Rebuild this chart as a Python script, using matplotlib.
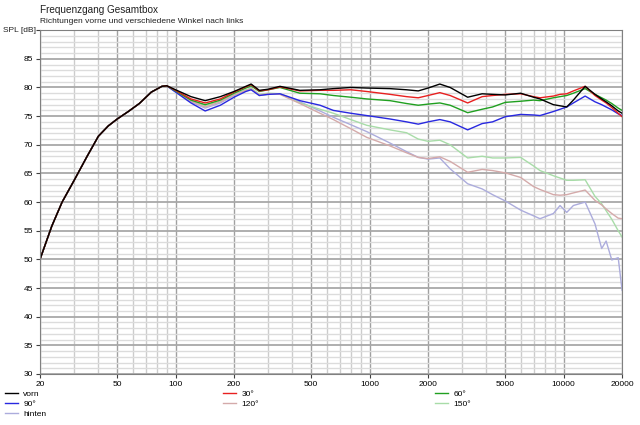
import numpy as np
import matplotlib
matplotlib.use("Agg")
import matplotlib.pyplot as plt
from matplotlib.lines import Line2D

plt.rcParams['font.family'] = ['Liberation Sans', 'DejaVu Sans']

# Frequenzpunkte (Hz)
freq = [20, 23, 26, 30, 35, 40, 45, 50, 57, 65, 75, 85, 90,
        100, 120, 142, 170, 200, 230, 245, 270, 300, 345, 437, 555, 650, 800, 966,
        1274, 1550, 1780, 2000, 2300, 2600, 3200, 3800, 4300, 5000, 6000, 7000,
        7550, 8850, 9580, 10370, 11220, 12900, 14500, 15700, 16550, 17700, 19100, 20000]

# gemeinsamer Tieftonbereich 20..90 Hz
bass = [50.0, 55.8, 60.0, 63.8, 68.0, 71.5, 73.3, 74.5, 75.8, 77.2, 79.2, 80.2, 80.3]

vorn = bass + [79.6, 78.4, 77.7, 78.4, 79.3, 80.2, 80.6, 79.5, 79.7, 80.2, 79.5, 79.6, 79.8, 80.0, 79.9,
               79.8, 79.6, 79.4, 79.9, 80.6, 80.0, 78.3, 78.9, 78.8, 78.7, 79.0, 78.3,
               78.0, 77.0, 76.8, 76.6, 77.8, 80.2, 78.8, 78.0, 77.5, 76.8, 75.9, 75.5]
w30 = bass + [79.5, 78.0, 77.3, 78.0, 79.2, 80.1, 80.5, 79.4, 79.6, 80.1, 79.4, 79.5, 79.5, 79.6, 79.3,
              78.8, 78.4, 78.2, 78.6, 79.1, 78.6, 77.3, 78.4, 78.6, 78.8, 78.9, 78.4,
              78.2, 78.5, 78.8, 78.9, 79.4, 80.2, 78.6, 77.8, 77.3, 76.5, 75.5, 74.9]
w60 = bass + [79.4, 77.8, 77.0, 77.8, 79.0, 79.9, 80.3, 79.3, 79.6, 80.0, 79.0, 78.9, 78.6, 78.3, 78.0,
              77.7, 77.2, 76.9, 77.1, 77.3, 76.9, 75.6, 76.2, 76.6, 77.4, 77.6, 77.8,
              77.7, 78.2, 78.4, 78.6, 79.0, 79.8, 78.8, 78.2, 77.8, 77.2, 76.4, 76.0]
w90 = bass + [79.2, 77.3, 75.9, 76.9, 78.3, 79.3, 79.6, 78.6, 78.8, 78.9, 77.7, 76.9, 76.0, 75.5, 75.1,
              74.5, 74.0, 73.6, 74.0, 74.4, 74.0, 72.6, 73.7, 74.0, 74.9, 75.3, 75.2,
              75.1, 75.8, 76.2, 76.6, 77.3, 78.5, 77.5, 77.0, 76.6, 76.1, 75.4, 75.1]
w120 = bass + [79.3, 77.6, 76.6, 77.5, 78.7, 79.5, 79.8, 78.7, 78.9, 78.8, 77.2, 75.5, 74.4, 72.8, 71.3,
               69.8, 68.6, 67.8, 67.6, 67.9, 67.1, 65.2, 65.7, 65.5, 65.1, 64.3, 62.7,
               62.2, 61.3, 61.2, 61.3, 61.6, 62.1, 60.3, 59.5, 58.8, 58.0, 57.2, 57.1]
w150 = bass + [79.3, 77.7, 76.8, 77.6, 78.8, 79.6, 79.9, 78.8, 79.0, 78.9, 77.3, 76.2, 75.5, 74.4, 73.4,
               72.6, 72.1, 71.0, 70.6, 70.8, 70.0, 67.7, 68.0, 67.7, 67.7, 67.8, 66.3,
               65.5, 64.6, 64.2, 63.8, 63.8, 63.9, 61.0, 59.7, 58.5, 57.0, 55.0, 53.9]
hinten = bass + [79.2, 77.5, 76.4, 77.3, 78.6, 79.4, 79.7, 78.6, 78.8, 78.9, 77.5, 75.9, 74.8, 73.5, 72.3,
                 70.3, 68.8, 67.8, 67.5, 67.7, 65.8, 63.2, 62.3, 61.3, 60.2, 58.6, 57.6,
                 57.1, 58.0, 59.4, 58.2, 59.4, 60.0, 56.2, 51.9, 53.2, 49.9, 50.3, 44.6]

labels = ['vorn', '30°', '60°', '90°', '120°', '150°', 'hinten']
colors = ['#000000', '#e82020', '#20a020', '#2828e0', '#d4aaaa', '#a8dca8', '#acacdc']
series = [vorn, w30, w60, w90, w120, w150, hinten]

fig = plt.figure(figsize=(6.4, 4.25), dpi=100)
ax = fig.add_axes([0.0625, 0.12, 0.9095, 0.809])

# Raster
for dec in [10, 100, 1000, 10000]:
    for m in range(1, 10):
        f = dec * m
        if f < 20 or f > 20000:
            continue
        dark = f in (20, 50, 100, 200, 500, 1000, 2000, 5000, 10000, 20000)
        ax.axvline(f, color='#a0a0a0' if dark else '#cccccc', lw=1.0, zorder=0)
for db in range(30, 91):
    ax.axhline(db, color='#a8a8a8' if db % 5 == 0 else '#dcdcdc', lw=1.3 if db % 5 == 0 else 1.0, zorder=0)

# Kurven: hinten zuerst, vorn zuletzt oben
for i in [6, 5, 4, 3, 2, 1, 0]:
    ax.plot(freq, series[i], color=colors[i], lw=1.0, zorder=2)

ax.set_xscale('log')
ax.set_xlim(20, 20000)
ax.set_ylim(30, 90)
xt = [20, 50, 100, 200, 500, 1000, 2000, 5000, 10000, 20000]
ax.set_xticks(xt)
ax.set_xticklabels([str(v) for v in xt])
ax.xaxis.set_minor_locator(matplotlib.ticker.NullLocator())
yt = list(range(30, 91, 5))
ax.set_yticks(yt)
ax.set_yticklabels([str(v) for v in yt[:-1]] + [''])
ax.tick_params(labelsize=6, length=3, width=0.8, color='#404040', pad=2)
for s in ax.spines.values():
    s.set_color('#808080')
    s.set_linewidth(0.8)

fig.text(0.005, 1 - 31 / 425, 'SPL [dB]', fontsize=6, color='#202020', va='center', ha='left')
fig.text(0.0625, 0.976, 'Frequenzgang Gesamtbox', fontsize=7.2, color='#202020', va='center')
fig.text(0.0625, 0.949, 'Richtungen vorne und verschiedene Winkel nach links', fontsize=6,
         color='#202020', va='center')

# Legende in drei Spalten
cols = [[0, 3, 6], [1, 4], [2, 5]]
xpos = [5 / 640, 223 / 640, 435 / 640]
for c, x in zip(cols, xpos):
    handles = [Line2D([], [], color=colors[i], lw=1.0) for i in c]
    fig.legend(handles, [labels[i] for i in c], loc='upper left', bbox_to_anchor=(x, 1 - 390 / 425),
               frameon=False, fontsize=6, handlelength=1.6, handletextpad=0.6,
               labelspacing=0.25, borderaxespad=0, borderpad=0)

fig.savefig('out.png', dpi=100)
